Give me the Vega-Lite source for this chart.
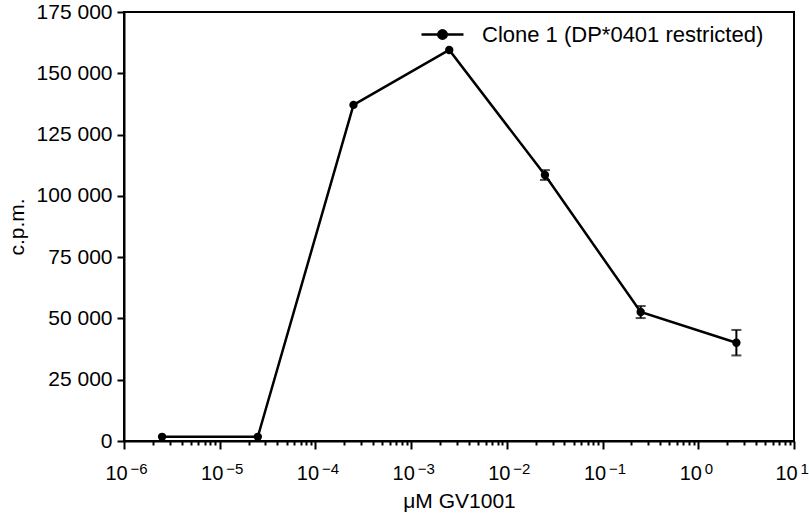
{
  "$schema": "https://vega.github.io/schema/vega-lite/v6.json",
  "width": 670,
  "height": 429,
  "autosize": {"type": "none"},
  "padding": {"left": 124, "top": 12, "right": 15, "bottom": 74},
  "background": "white",
  "config": {
    "font": "Liberation Sans",
    "view": {"stroke": "black", "strokeWidth": 2},
    "axis": {"domainColor": "black", "domainWidth": 2, "tickColor": "black", "tickWidth": 2, "labelColor": "black", "titleColor": "black", "grid": false, "titleFontWeight": "normal"}
  },
  "resolve": {"axis": {"x": "independent"}},
  "data": {
    "values": [
      {"conc": 0.0000025, "cpm": 1700, "err": 0, "series": "Clone 1 (DP*0401 restricted)"},
      {"conc": 0.000025, "cpm": 1700, "err": 0, "series": "Clone 1 (DP*0401 restricted)"},
      {"conc": 0.00025, "cpm": 137100, "err": 0, "series": "Clone 1 (DP*0401 restricted)"},
      {"conc": 0.0025, "cpm": 159500, "err": 0, "series": "Clone 1 (DP*0401 restricted)"},
      {"conc": 0.025, "cpm": 108500, "err": 2000, "series": "Clone 1 (DP*0401 restricted)"},
      {"conc": 0.25, "cpm": 52600, "err": 2450, "series": "Clone 1 (DP*0401 restricted)"},
      {"conc": 2.5, "cpm": 40100, "err": 5200, "series": "Clone 1 (DP*0401 restricted)"}
    ]
  },
  "layer": [
    {
      "mark": {"type": "line", "strokeWidth": 2.5, "color": "black"},
      "encoding": {
        "x": {
          "field": "conc", "type": "quantitative",
          "title": "μM GV1001",
          "scale": {"type": "log", "domain": [0.000001, 10], "nice": false},
          "axis": {
            "orient": "bottom",
            "titleFontSize": 21,
            "titleY": 66,
            "titleBaseline": "alphabetic",
            "labelFontSize": 20,
            "labelPadding": 14,
            "labelOffset": -8,
            "labelFlush": false,
            "labelOverlap": false,
            "tickSize": {"condition": {"test": "abs(log(datum.value)/LN10 - round(log(datum.value)/LN10)) < 0.01", "value": 8}, "value": 4},
            "values": [0.000001,0.000002,0.000003,0.000004,0.000005,0.000006,0.000007,0.000008,0.000009,
                       0.00001,0.00002,0.00003,0.00004,0.00005,0.00006,0.00007,0.00008,0.00009,
                       0.0001,0.0002,0.0003,0.0004,0.0005,0.0006,0.0007,0.0008,0.0009,
                       0.001,0.002,0.003,0.004,0.005,0.006,0.007,0.008,0.009,
                       0.01,0.02,0.03,0.04,0.05,0.06,0.07,0.08,0.09,
                       0.1,0.2,0.3,0.4,0.5,0.6,0.7,0.8,0.9,
                       1,2,3,4,5,6,7,8,9,10],
            "labelExpr": "abs(log(datum.value)/LN10 - round(log(datum.value)/LN10)) < 0.01 ? '10' : ''"
          }
        },
        "y": {
          "field": "cpm", "type": "quantitative",
          "title": "c.p.m.",
          "scale": {"domain": [0, 175000], "nice": false},
          "axis": {
            "titleFontSize": 21,
            "titleX": -107,
            "titleBaseline": "middle",
            "labelFontSize": 21,
            "labelPadding": 5,
            "tickSize": 7,
            "values": [0, 25000, 50000, 75000, 100000, 125000, 150000, 175000],
            "labelExpr": "replace(format(datum.value, ','), ',', ' ')"
          }
        },
        "color": {
          "field": "series", "type": "nominal",
          "scale": {"range": ["black"]},
          "legend": {
            "title": null,
            "orient": "none",
            "legendX": 296,
            "legendY": 0,
            "symbolType": "M-1,0L1,0M-0.2,0A0.2,0.2,0,1,0,0.2,0A0.2,0.2,0,1,0,-0.2,0Z",
            "symbolSize": 1764,
            "symbolStrokeWidth": 2.5,
            "symbolStrokeColor": "black",
            "symbolFillColor": "black",
            "labelFontSize": 22,
            "labelOffset": 17,
            "labelColor": "black",
            "labelLimit": 400,
            "encode": {"symbols": {"update": {"fill": {"value": "black"}, "stroke": {"value": "black"}}}}
          }
        }
      }
    },
    {
      "mark": {"type": "point", "filled": true, "size": 70, "color": "black", "opacity": 1},
      "encoding": {
        "x": {
          "field": "conc", "type": "quantitative", "title": null,
          "axis": {
            "orient": "bottom",
            "title": null,
            "domain": false,
            "ticks": false,
            "labelFontSize": 15,
            "labelPadding": 20,
            "labelOffset": 6,
            "labelAlign": "left",
            "labelFlush": false,
            "labelOverlap": false,
            "values": [0.000001, 0.00001, 0.0001, 0.001, 0.01, 0.1, 1, 10],
            "labelExpr": "(datum.value < 0.5 ? '−' : '') + format(abs(round(log(datum.value)/LN10)), 'd')"
          }
        },
        "y": {"field": "cpm", "type": "quantitative", "title": "c.p.m."}
      }
    },
    {
      "transform": [{"filter": "datum.err > 0"}],
      "mark": {"type": "errorbar", "color": "black", "ticks": {"size": 10, "thickness": 2, "color": "black"}, "rule": {"strokeWidth": 2, "color": "black"}},
      "encoding": {
        "x": {"field": "conc", "type": "quantitative", "title": null, "axis": null},
        "y": {"field": "cpm", "type": "quantitative", "title": "c.p.m."},
        "yError": {"field": "err"}
      }
    }
  ]
}
